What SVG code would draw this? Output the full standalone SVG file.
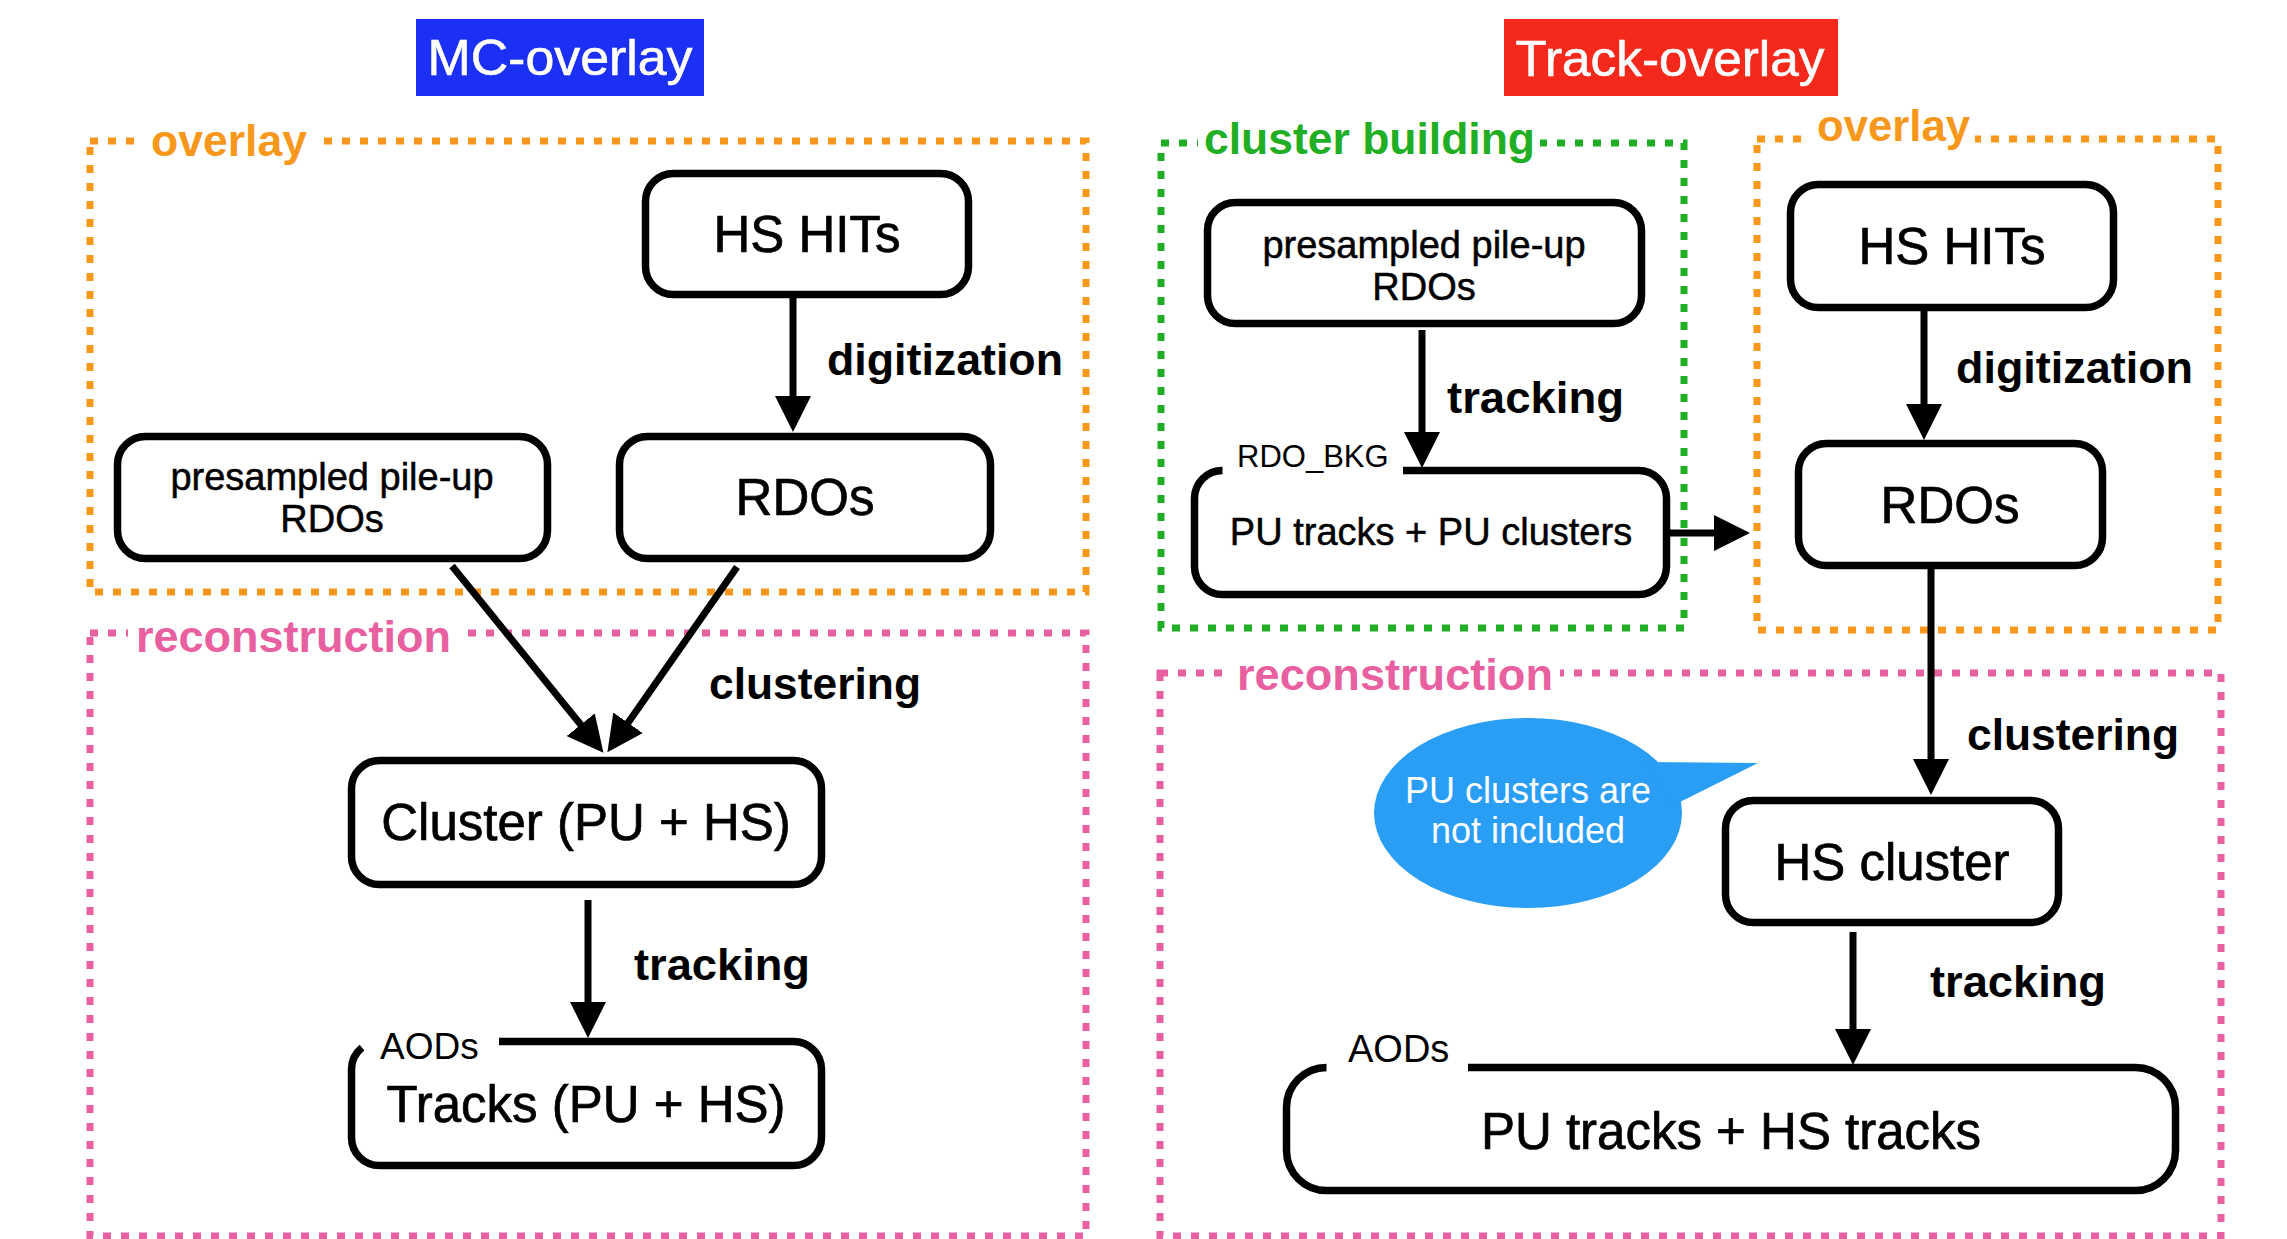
<svg xmlns="http://www.w3.org/2000/svg" width="2287" height="1239" viewBox="0 0 2287 1239">
<style>
  text { font-family: "Liberation Sans", Arial, Helvetica, sans-serif; }
  .grp { fill: none; stroke-width: 7; stroke-dasharray: 8 10; }
  .og { stroke: #f7981d; }
  .pk { stroke: #e8609f; }
  .gr { stroke: #1fae24; }
  .bg { fill: #ffffff; }
  .glbl { font-size: 44px; font-weight: bold; }
  .ogt { fill: #f7981d; }
  .pkt { fill: #e8609f; }
  .grt { fill: #1fae24; }
  .box { fill: #ffffff; stroke: #000000; stroke-width: 7.5; }
  .nt { font-size: 51px; text-anchor: middle; fill: #000000; stroke: #000000; stroke-width: 0.7px; }
  .st { font-size: 38px; text-anchor: middle; fill: #000000; stroke: #000000; stroke-width: 0.5px; }
  .tag { font-size: 37px; fill: #000000; }
  .el { font-size: 44px; font-weight: bold; fill: #000000; }
  .conn { stroke: #000000; stroke-width: 7; fill: none; marker-end: url(#ah); }
  .title { font-size: 50px; fill: #ffffff; text-anchor: middle; stroke: #ffffff; stroke-width: 0.6px; }
</style>
<defs>
  <marker id="ah" markerUnits="userSpaceOnUse" viewBox="0 0 36 36" markerWidth="36" markerHeight="36" refX="21" refY="18" orient="auto">
    <path d="M0,0 L36,18 L0,36 Z" fill="#000000"/>
  </marker>
</defs>
<rect x="0" y="0" width="2287" height="1239" fill="#ffffff"/>

<!-- Titles -->
<g id="title-mc">
  <rect x="416" y="19" width="288" height="77" fill="#1b2ff5"/>
  <text class="title" x="560" y="75" textLength="265" lengthAdjust="spacingAndGlyphs">MC-overlay</text>
</g>
<g id="title-track">
  <rect x="1504" y="19" width="334" height="77" fill="#f5291b"/>
  <text class="title" x="1670" y="76" textLength="309" lengthAdjust="spacingAndGlyphs">Track-overlay</text>
</g>

<!-- Group boxes -->
<g id="group-overlay-left">
  <rect class="grp og" x="90" y="141" width="996" height="451"/>
  <rect class="bg" x="140" y="120" width="178" height="50"/>
  <text class="glbl ogt" x="151" y="156" textLength="156" lengthAdjust="spacingAndGlyphs">overlay</text>
</g>
<g id="group-reco-left">
  <rect class="grp pk" x="90" y="633" width="996" height="603"/>
  <rect class="bg" x="128" y="612" width="334" height="50"/>
  <text class="glbl pkt" x="136" y="652" textLength="315" lengthAdjust="spacingAndGlyphs">reconstruction</text>
</g>
<g id="group-cluster-building">
  <rect class="grp gr" x="1161" y="143" width="523" height="485"/>
  <rect class="bg" x="1198" y="120" width="342" height="50"/>
  <text class="glbl grt" x="1204" y="154" textLength="331" lengthAdjust="spacingAndGlyphs">cluster building</text>
</g>
<g id="group-overlay-right">
  <rect class="grp og" x="1757" y="139" width="461" height="491"/>
  <rect class="bg" x="1810" y="112" width="165" height="45"/>
  <text class="glbl ogt" x="1817" y="141" textLength="153" lengthAdjust="spacingAndGlyphs">overlay</text>
</g>
<g id="group-reco-right">
  <rect class="grp pk" x="1160" y="673" width="1061" height="563"/>
  <rect class="bg" x="1230" y="650" width="330" height="50"/>
  <text class="glbl pkt" x="1237" y="690" textLength="316" lengthAdjust="spacingAndGlyphs">reconstruction</text>
</g>

<!-- Nodes: MC-overlay -->
<g id="node-hs-hits-left">
  <rect class="box" x="645.5" y="173.5" width="323" height="121" rx="28"/>
  <text class="nt" x="807" y="252">HS HITs</text>
</g>
<g id="node-rdos-left">
  <rect class="box" x="619.5" y="436.5" width="371" height="122" rx="28"/>
  <text class="nt" x="805" y="515">RDOs</text>
</g>
<g id="node-presampled-left">
  <rect class="box" x="117.5" y="436.5" width="430" height="122" rx="28"/>
  <text class="st" x="332" y="490">presampled pile-up</text>
  <text class="st" x="332" y="532">RDOs</text>
</g>
<g id="node-cluster-pu-hs">
  <rect class="box" x="351.5" y="760.5" width="470" height="124" rx="28"/>
  <text class="nt" x="586" y="840">Cluster (PU + HS)</text>
</g>
<g id="node-tracks-pu-hs">
  <path class="box" d="M499,1041.5 L793.5,1041.5 A28,28 0 0 1 821.5,1069.5 L821.5,1137.5 A28,28 0 0 1 793.5,1165.5 L379.5,1165.5 A28,28 0 0 1 351.5,1137.5 L351.5,1069.5 A28,28 0 0 1 362,1047.6"/>
  <text class="tag" x="380" y="1059">AODs</text>
  <text class="nt" x="586" y="1122">Tracks (PU + HS)</text>
</g>

<!-- Nodes: Track-overlay -->
<g id="node-presampled-right">
  <rect class="box" x="1207.5" y="202.5" width="434" height="121" rx="28"/>
  <text class="st" x="1424" y="258">presampled pile-up</text>
  <text class="st" x="1424" y="300">RDOs</text>
</g>
<g id="node-pu-tracks-pu-clusters">
  <path class="box" d="M1403,470.5 L1638.5,470.5 A28,28 0 0 1 1666.5,498.5 L1666.5,566.5 A28,28 0 0 1 1638.5,594.5 L1222.5,594.5 A28,28 0 0 1 1194.5,566.5 L1194.5,498.5 A28,28 0 0 1 1222.5,470.5"/>
  <text class="tag" x="1237" y="467" style="font-size:31px">RDO_BKG</text>
  <text class="st" x="1431" y="545">PU tracks + PU clusters</text>
</g>
<g id="node-hs-hits-right">
  <rect class="box" x="1790.5" y="184.5" width="323" height="123" rx="28"/>
  <text class="nt" x="1952" y="264">HS HITs</text>
</g>
<g id="node-rdos-right">
  <rect class="box" x="1798.5" y="443.5" width="304" height="122" rx="28"/>
  <text class="nt" x="1950" y="523">RDOs</text>
</g>
<g id="node-hs-cluster">
  <rect class="box" x="1725.5" y="800.5" width="333" height="122" rx="28"/>
  <text class="nt" x="1892" y="880">HS cluster</text>
</g>
<g id="node-pu-hs-tracks">
  <path class="box" d="M1468,1067.5 L2135.5,1067.5 A40,40 0 0 1 2175.5,1107.5 L2175.5,1150.5 A40,40 0 0 1 2135.5,1190.5 L1326.5,1190.5 A40,40 0 0 1 1286.5,1150.5 L1286.5,1107.5 A40,40 0 0 1 1326.5,1067.5"/>
  <text class="tag" x="1348" y="1062" style="font-size:38px">AODs</text>
  <text class="nt" x="1731" y="1149">PU tracks + HS tracks</text>
</g>
<g id="note-bubble">
  <ellipse cx="1528" cy="813" rx="154" ry="95" fill="#2a9df4"/>
  <polygon points="1645,762 1758,763 1674,805" fill="#2a9df4"/>
  <text x="1528" y="803" style="font-size:36px" fill="#ffffff" text-anchor="middle">PU clusters are</text>
  <text x="1528" y="843" style="font-size:36px" fill="#ffffff" text-anchor="middle">not included</text>
</g>

<!-- Connectors -->
<g id="connectors">
  <line class="conn" x1="793" y1="298" x2="793" y2="417"/>
  <line class="conn" x1="452" y1="566" x2="594" y2="741"/>
  <line class="conn" x1="737" y1="567" x2="616" y2="740"/>
  <line class="conn" x1="588" y1="900" x2="588" y2="1023"/>
  <line class="conn" x1="1422" y1="330" x2="1422" y2="453"/>
  <line class="conn" x1="1668" y1="533" x2="1735" y2="533"/>
  <line class="conn" x1="1924" y1="311" x2="1924" y2="425"/>
  <line class="conn" x1="1931" y1="569" x2="1931" y2="780"/>
  <line class="conn" x1="1853" y1="932" x2="1853" y2="1050"/>
</g>

<!-- Edge labels -->
<g id="edge-labels">
  <text class="el" x="827" y="375" textLength="236" lengthAdjust="spacingAndGlyphs">digitization</text>
  <text class="el" x="709" y="699" textLength="212" lengthAdjust="spacingAndGlyphs">clustering</text>
  <text class="el" x="634" y="980" textLength="176" lengthAdjust="spacingAndGlyphs">tracking</text>
  <text class="el" x="1447" y="413" textLength="177" lengthAdjust="spacingAndGlyphs">tracking</text>
  <text class="el" x="1956" y="383" textLength="237" lengthAdjust="spacingAndGlyphs">digitization</text>
  <text class="el" x="1967" y="750" textLength="212" lengthAdjust="spacingAndGlyphs">clustering</text>
  <text class="el" x="1930" y="997" textLength="176" lengthAdjust="spacingAndGlyphs">tracking</text>
</g>
</svg>
